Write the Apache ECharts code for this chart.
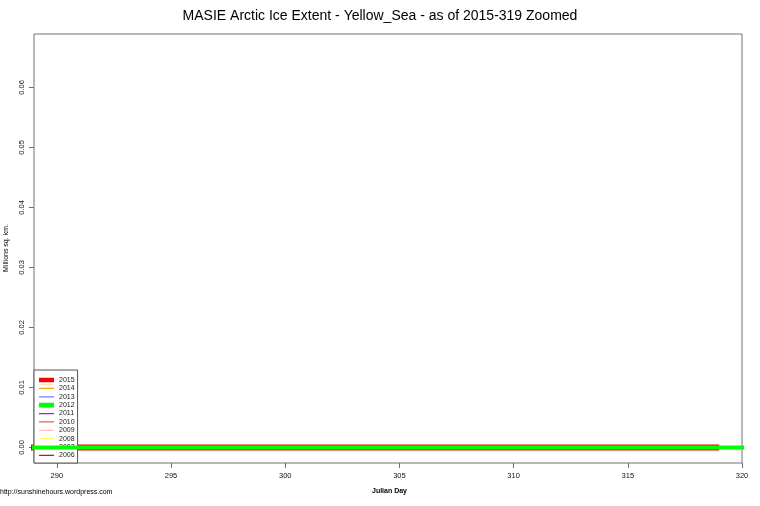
<!DOCTYPE html>
<html>
<head>
<meta charset="utf-8">
<script src="https://cdn.jsdelivr.net/npm/echarts@6/dist/echarts.min.js"></script>
<style>
html,body{margin:0;padding:0;background:#fff;}
#chart{width:760px;height:506px;}
</style>
</head>
<body>
<div id="chart"></div>
<script>
// Data: every year's line lies flat at 0 over the zoomed window
const years = ['2015','2014','2013','2012','2011','2010','2009','2008','2007','2006'];
const days2015 = [288, 319];
const daysOther = [288, 321];
const extent2015 = [0, 0];
const extent2014 = [0, 0];
const extent2013 = [0, 0];
const extent2012 = [0, 0];
const extent2011 = [0, 0];
const extent2010 = [0, 0];
const extent2009 = [0, 0];
const extent2008 = [0, 0];
const extent2007 = [0, 0];
const extent2006 = [0, 0];
const xTicks = [290, 295, 300, 305, 310, 315, 320];
const yTicks = [0, 0.01, 0.02, 0.03, 0.04, 0.05, 0.06];

const yearValues = {
  '2015': extent2015, '2014': extent2014, '2013': extent2013, '2012': extent2012,
  '2011': extent2011, '2010': extent2010, '2009': extent2009, '2008': extent2008,
  '2007': extent2007, '2006': extent2006
};
const colors = {
  '2015': '#ff0000', '2014': '#ffa500', '2013': '#7b7bff', '2012': '#00ff00',
  '2011': '#a020f0', '2010': '#ff5555', '2009': '#ffc0cb', '2008': '#ffff55',
  '2007': '#ff5500', '2006': '#b22222'
};
const widths = {'2015': 6, '2012': 4};
const zs = {'2015': 3, '2012': 4};

// legend icons: a line of given thickness inside a 7-unit-high box
const thinIcon = 'path://M0,0L15,0L15,0.01L0,0.01Z M0,3L15,3L15,4.2L0,4.2Z M0,6.99L15,6.99L15,7L0,7Z';
const thickIcon = 'path://M0,0L15,0L15,0.01L0,0.01Z M0,1.2L15,1.2L15,5.8L0,5.8Z M0,6.99L15,6.99L15,7L0,7Z';

const series = years.map(y => {
  const d = y === '2015' ? days2015 : daysOther;
  return {
    name: y,
    type: 'line',
    symbol: 'none',
    clip: true,
    silent: true,
    animation: false,
    z: zs[y] || 2,
    lineStyle: {color: colors[y], width: widths[y] || 1},
    itemStyle: {color: colors[y]},
    data: d.map((x, i) => [x, yearValues[y][i]])
  };
}).reverse();

const chart = echarts.init(document.getElementById('chart'));
chart.setOption({
  animation: false,
  backgroundColor: '#fff',
  title: {
    text: 'MASIE Arctic Ice Extent - Yellow_Sea - as of 2015-319 Zoomed',
    left: 'center',
    top: 4,
    textStyle: {fontFamily: 'Liberation Sans', fontSize: 14, fontWeight: 'normal', color: '#000'}
  },
  grid: {left: 34, right: 18, top: 34, bottom: 43, show: true, borderColor: '#707070', borderWidth: 1, backgroundColor: 'transparent'},
  xAxis: {
    type: 'value', min: 289, max: 320,
    axisLine: {show: false, onZero: false},
    splitLine: {show: false},
    axisTick: {show: true, inside: false, length: 5, lineStyle: {color: '#707070'}, customValues: xTicks},
    axisLabel: {customValues: xTicks, margin: 9, fontFamily: 'Liberation Sans', fontSize: 7.5, color: '#111'}
  },
  yAxis: {
    type: 'value', min: -0.0026, max: 0.0689,
    axisLine: {show: false, onZero: false},
    splitLine: {show: false},
    axisTick: {show: true, inside: false, length: 5, lineStyle: {color: '#707070'}, customValues: yTicks},
    axisLabel: {customValues: yTicks, rotate: 90, margin: 8, fontFamily: 'Liberation Sans', fontSize: 7.5, color: '#111',
      formatter: v => v.toFixed(2)}
  },
  legend: {
    data: years.map(y => ({name: y, icon: widths[y] ? thickIcon : thinIcon, itemStyle: {color: colors[y], borderWidth: 0}})),
    orient: 'vertical',
    left: 34, top: 370,
    padding: [6.5, 3, 4.2, 5],
    backgroundColor: '#fff',
    borderColor: '#555',
    borderWidth: 1,
    borderRadius: 0,
    itemWidth: 15, itemHeight: 7, itemGap: 1.37, itemTextGap: 5,
    selectedMode: false,
    textStyle: {fontFamily: 'Liberation Sans', fontSize: 7, color: '#222', lineHeight: 7}
  },
  graphic: [
    {type: 'text', left: 372, top: 488, style: {text: 'Julian Day', font: 'bold 7px "Liberation Sans"', fill: '#000'}},
    {type: 'text', left: 0, top: 489, style: {text: 'http://sunshinehours.wordpress.com', font: '7px "Liberation Sans"', fill: '#000'}},
    {type: 'text', x: 3, y: 248, rotation: Math.PI / 2, style: {text: 'Millions sq. km.', font: '7px "Liberation Sans"', fill: '#000', align: 'center', verticalAlign: 'top'}}
  ],
  series: series
});
</script>
</body>
</html>
